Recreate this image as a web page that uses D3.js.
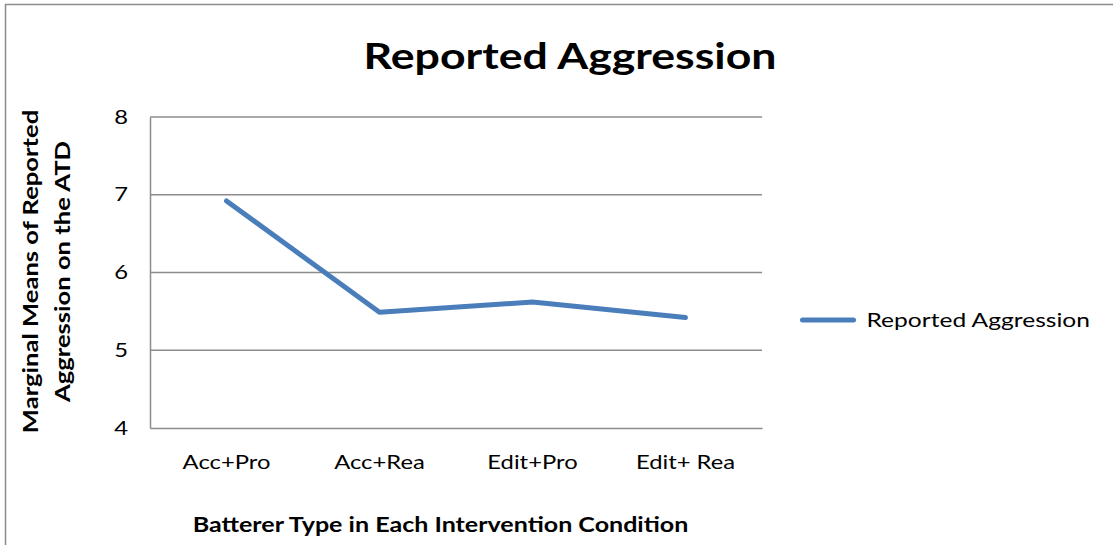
<!DOCTYPE html>
<html>
<head>
<meta charset="utf-8">
<script src="https://cdn.jsdelivr.net/npm/d3@7"></script>
<style>
  html, body { margin: 0; padding: 0; background: #fff; }
  svg { display: block; font-family: Lato, "Open Sans", sans-serif; }
</style>
</head>
<body>
<svg id="chart" width="1113" height="545"></svg>
<script>
// Chart content
const chartTitle = "Reported Aggression";
const categories = ["Acc+Pro", "Acc+Rea", "Edit+Pro", "Edit+ Rea"];
const seriesName = "Reported Aggression";
const seriesValues = [6.92, 5.49, 5.62, 5.42];
const yTicks = [4, 5, 6, 7, 8];
const yTitleLines = ["Marginal Means of Reported", "Aggression on the ATD"];
const xTitle = "Batterer Type in Each Intervention Condition";

const svg = d3.select("#chart");
const W = 1113, H = 545;
const plot = { left: 150, right: 762, top: 117, bottom: 428 };
const lineColor = "#4a7ebb";
const gridColor = "#8c8c8c";

// widen glyphs along the text direction, keeping the anchor point fixed
function widen(sel, sx) {
  sel.each(function () {
    const x = +this.getAttribute("x") || 0;
    const y = +this.getAttribute("y") || 0;
    this.setAttribute("transform",
      `translate(${x},${y}) scale(${sx},1) translate(${-x},${-y})`);
  });
}

// outer chart frame
svg.append("rect")
  .attr("x", 5.5).attr("y", 4.5)
  .attr("width", W + 10).attr("height", H + 10)
  .attr("fill", "#fff").attr("stroke", "#8c8c8c").attr("stroke-width", 1.5);

const x = d3.scaleBand().domain(categories).range([plot.left, plot.right]);
const y = d3.scaleLinear().domain([4, 8]).range([plot.bottom, plot.top]);

// horizontal gridlines
svg.append("g").selectAll("line").data(yTicks.filter(t => t > 4)).join("line")
  .attr("x1", plot.left).attr("x2", plot.right)
  .attr("y1", d => y(d)).attr("y2", d => y(d))
  .attr("stroke", gridColor).attr("stroke-width", 1.5);

// y axis
const yAxis = svg.append("g")
  .attr("transform", `translate(${plot.left},0)`)
  .call(d3.axisLeft(y).tickValues(yTicks).tickSize(0).tickPadding(22).tickFormat(d3.format("d")));
yAxis.select(".domain").attr("stroke", gridColor).attr("stroke-width", 1.5);
yAxis.selectAll("text").attr("font-size", 19.5).attr("fill", "#000")
  .attr("font-family", "Lato, sans-serif").call(widen, 1.22);

// x axis
const xAxis = svg.append("g")
  .attr("transform", `translate(0,${plot.bottom})`)
  .call(d3.axisBottom(x).tickSize(0).tickPadding(27));
xAxis.select(".domain").attr("stroke", gridColor).attr("stroke-width", 1.5);
xAxis.selectAll("text").attr("font-size", 19.5).attr("fill", "#000")
  .attr("font-family", "Lato, sans-serif").call(widen, 1.22);

// data line
const line = d3.line()
  .x((d, i) => x(categories[i]) + x.bandwidth() / 2)
  .y(d => y(d));
svg.append("path")
  .datum(seriesValues)
  .attr("d", line)
  .attr("fill", "none")
  .attr("stroke", lineColor)
  .attr("stroke-width", 5)
  .attr("stroke-linecap", "round")
  .attr("stroke-linejoin", "round");

// title
svg.append("text")
  .attr("x", 570).attr("y", 69.5)
  .attr("text-anchor", "middle")
  .attr("font-size", 36).attr("font-weight", "bold")
  .text(chartTitle)
  .call(widen, 1.24);

// y axis title (two lines, rotated)
const yt = svg.append("text")
  .attr("transform", "translate(0,271.5) rotate(-90) scale(1.19,1)")
  .attr("text-anchor", "middle")
  .attr("font-size", 21.5).attr("font-weight", "bold");
yt.selectAll("tspan").data(yTitleLines).join("tspan")
  .attr("x", 0).attr("y", (d, i) => 38 + i * 32)
  .text(d => d);

// x axis title
svg.append("text")
  .attr("x", 440.5).attr("y", 532)
  .attr("text-anchor", "middle")
  .attr("font-size", 21.5).attr("font-weight", "bold")
  .text(xTitle)
  .call(widen, 1.165);

// legend
const lg = svg.append("g").attr("transform", "translate(800,320)");
lg.append("line").attr("x1", 2.5).attr("x2", 53.5).attr("y1", 0).attr("y2", 0)
  .attr("stroke", lineColor).attr("stroke-width", 5).attr("stroke-linecap", "round");
lg.append("text").attr("x", 66.5).attr("y", 7)
  .attr("font-size", 19.5).text(seriesName)
  .call(widen, 1.26);
</script>
</body>
</html>
